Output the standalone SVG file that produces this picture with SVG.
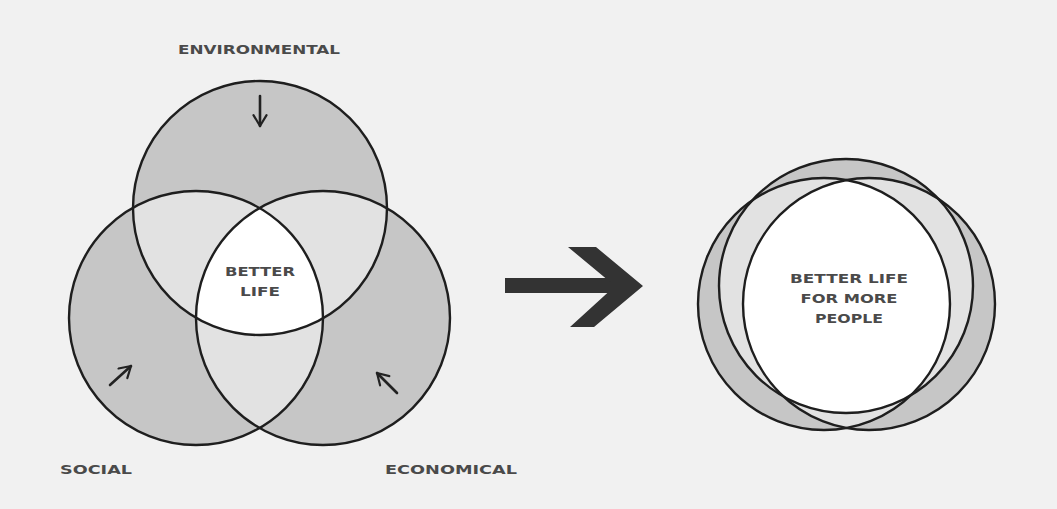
<svg xmlns="http://www.w3.org/2000/svg" width="1057" height="509" viewBox="0 0 1057 509">
<style>
.dark{fill:#c6c6c6}
.light{fill:#e2e2e2}
.white{fill:#ffffff}
.ring{fill:none;stroke:#1e1e1e;stroke-width:2.4}
.lbl{font-family:"DejaVu Sans","Verdana",sans-serif;font-size:13px;font-weight:bold;fill:#4a4a4a;text-anchor:middle}
.sm{stroke:#222;stroke-width:2.6;fill:none;stroke-linecap:round}
</style>
<defs>
<clipPath id="cT"><circle cx="260" cy="208" r="127"/></clipPath>
<clipPath id="cL"><circle cx="196" cy="318" r="127"/></clipPath>
<clipPath id="cR"><circle cx="323" cy="318" r="127"/></clipPath>
<clipPath id="rT"><circle cx="846" cy="286" r="127"/></clipPath>
<clipPath id="rL"><circle cx="824" cy="304" r="126"/></clipPath>
<clipPath id="rR"><circle cx="869" cy="304" r="126"/></clipPath>
<marker id="head" viewBox="0 0 10 10" refX="8.5" refY="5" markerWidth="6" markerHeight="6" orient="auto" markerUnits="strokeWidth">
<path d="M1.5,0.8 L8.5,5 L1.5,9.2" fill="none" stroke="#222" stroke-width="1.4" stroke-linecap="round" stroke-linejoin="round"/>
</marker>
</defs>
<rect width="1057" height="509" fill="#f1f1f1"/>

<g id="venn">
<g id="environmental">
<circle class="dark" cx="260" cy="208" r="127"/>
</g>
<g id="social">
<circle class="dark" cx="196" cy="318" r="127"/>
</g>
<g id="economical">
<circle class="dark" cx="323" cy="318" r="127"/>
</g>
<circle class="light" cx="196" cy="318" r="127" clip-path="url(#cT)"/>
<circle class="light" cx="323" cy="318" r="127" clip-path="url(#cT)"/>
<circle class="light" cx="323" cy="318" r="127" clip-path="url(#cL)"/>
<g clip-path="url(#cT)"><circle class="white" cx="323" cy="318" r="127" clip-path="url(#cL)"/></g>
<circle class="ring" cx="260" cy="208" r="127"/>
<circle class="ring" cx="196" cy="318" r="127"/>
<circle class="ring" cx="323" cy="318" r="127"/>
<g id="better-life">
<text class="lbl" x="260" y="276" textLength="70" lengthAdjust="spacingAndGlyphs">BETTER</text>
<text class="lbl" x="260" y="296" textLength="40" lengthAdjust="spacingAndGlyphs">LIFE</text>
</g>
</g>

<g id="labels">
<text class="lbl" x="259" y="54" font-size="14" textLength="162" lengthAdjust="spacingAndGlyphs">ENVIRONMENTAL</text>
<text class="lbl" x="96" y="474" textLength="72" lengthAdjust="spacingAndGlyphs">SOCIAL</text>
<text class="lbl" x="451" y="474" textLength="132" lengthAdjust="spacingAndGlyphs">ECONOMICAL</text>
</g>

<g id="result">
<circle class="dark" cx="846" cy="286" r="127"/>
<circle class="dark" cx="824" cy="304" r="126"/>
<circle class="dark" cx="869" cy="304" r="126"/>
<circle class="light" cx="824" cy="304" r="126" clip-path="url(#rT)"/>
<circle class="light" cx="869" cy="304" r="126" clip-path="url(#rT)"/>
<circle class="light" cx="869" cy="304" r="126" clip-path="url(#rL)"/>
<g clip-path="url(#rT)"><circle class="white" cx="869" cy="304" r="126" clip-path="url(#rL)"/></g>
<circle class="ring" cx="846" cy="286" r="127"/>
<circle class="ring" cx="824" cy="304" r="126"/>
<circle class="ring" cx="869" cy="304" r="126"/>
<g id="better-life-more">
<text class="lbl" x="849" y="283" textLength="118" lengthAdjust="spacingAndGlyphs">BETTER LIFE</text>
<text class="lbl" x="849" y="303" textLength="97" lengthAdjust="spacingAndGlyphs">FOR MORE</text>
<text class="lbl" x="849" y="323" textLength="68" lengthAdjust="spacingAndGlyphs">PEOPLE</text>
</g>
</g>

<g id="connectors">
<path d="M505,278 H616 V293 H505 Z" fill="#333"/>
<path d="M568,247 L596,247 L643,286 L594,327 L570,327 L615,286 Z" fill="#333"/>
<path class="sm" d="M260,96 V126" marker-end="url(#head)"/>
<path class="sm" d="M110,385 L131,366" marker-end="url(#head)"/>
<path class="sm" d="M397,393 L377,373" marker-end="url(#head)"/>
</g>
</svg>
